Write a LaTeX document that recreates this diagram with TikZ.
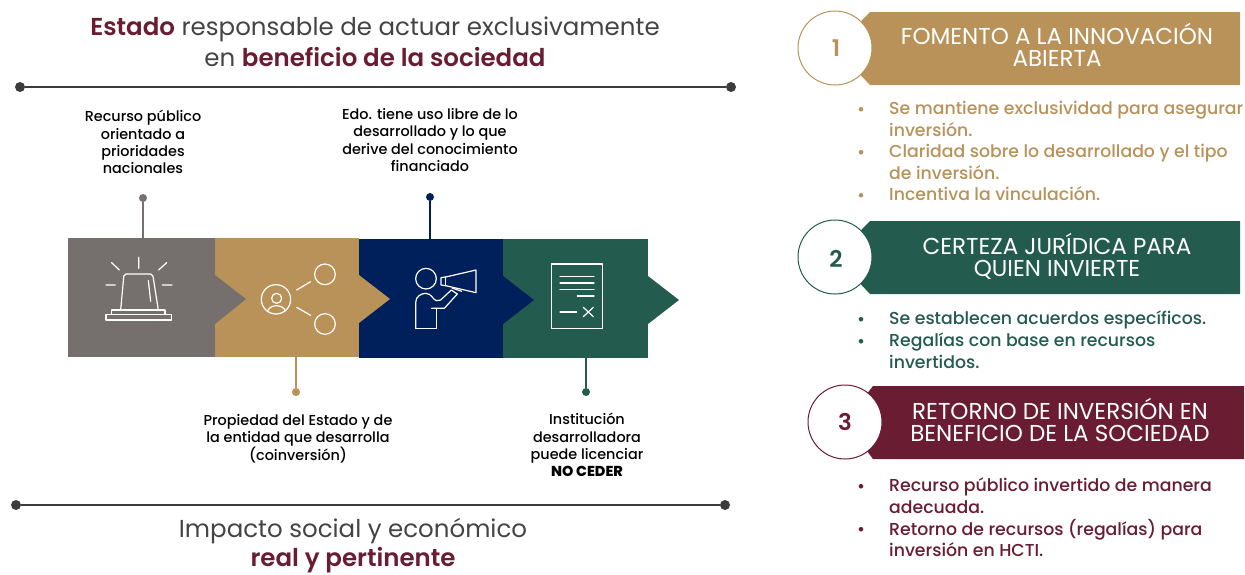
\documentclass[tikz,border=0pt]{standalone}
\usepackage{fontspec}
\setmainfont{Poppins}[BoldFont={Poppins SemiBold}]
\newfontfamily\medf{Poppins Medium}
\definecolor{cgray}{HTML}{75706E}
\definecolor{ctan}{HTML}{B89259}
\definecolor{cnavy}{HTML}{00205B}
\definecolor{cgreen}{HTML}{235B4E}
\definecolor{cmar}{HTML}{691C32}
\definecolor{cdark}{HTML}{3C3C3C}
\definecolor{ctxt}{HTML}{444444}
\tikzset{
  block/.style={fill=#1,draw=none,inner sep=0pt,anchor=north west},
  tip/.style={fill=#1,draw=none},
  icon/.style={draw=white,line width=1.2pt,line join=round,line cap=round,fill=none},
  dotn/.style={circle,fill=#1,inner sep=0pt,minimum size=8pt},
  rule/.style={line width=2.6pt,cdark},
  ruledot/.style={circle,fill=cdark,inner sep=0pt,minimum size=10pt},
  stem/.style={line width=1.1pt,#1},
  head/.style={font=\fontsize{24.5}{31}\selectfont,text=ctxt,align=center,inner sep=0pt},
  headb/.style={font=\fontsize{24.5}{29}\selectfont,text=ctxt,align=center,inner sep=0pt},
  lab/.style={font=\medf\fontsize{14.4}{17.2}\selectfont,text=black,align=center,inner sep=0pt},
  bantext/.style={font=\fontsize{23}{22}\selectfont,text=white,align=center,inner sep=0pt},
  numc/.style={circle,draw=#1,fill=white,line width=1pt,minimum size=74pt,inner sep=0pt},
  numt/.style={inner sep=0pt,text=#1,font=\bfseries\fontsize{23}{24}\selectfont},
  bul/.style={font=\medf\fontsize{17.3}{21.6}\selectfont,text=#1,align=left,inner sep=0pt,anchor=north west},
  bulm/.style={font=\medf\fontsize{17.3}{21.6}\selectfont,text=#1,inner sep=0pt},
}
\begin{document}
\begin{tikzpicture}[x=1pt,y=-1pt]
\useasboundingbox (0,0) rectangle (1245,574);
\fill[white] (0,0) rectangle (1245,574);
% headings
\node[head] (h1) at (375,42) {{\bfseries\color{cmar}Estado} responsable de actuar exclusivamente\\en {\bfseries\color{cmar}beneficio de la sociedad}};
\node[headb] (h2) at (353,545.5) {Impacto social y económico\\{\bfseries\color{cmar}real y pertinente}};
% rules
\node[ruledot] (ra) at (20,87) {};
\node[ruledot] (rb) at (731,87) {};
\draw[rule] (ra) -- (rb);
\node[ruledot] (rc) at (16,505) {};
\node[ruledot] (rd) at (725,505) {};
\draw[rule] (rc) -- (rd);
% blocks, right to left so that each tip lies over the next block
\fill[tip=cgreen] (648,276) -- (679,300) -- (648,324) -- cycle;
\node[block=cgreen,minimum width=145pt,minimum height=119pt] (b4) at (503,239) {};
\node[block=cnavy,minimum width=144pt,minimum height=119pt] (b3) at (359,239) {};
\fill[tip=cnavy] (503,276) -- (534,300) -- (503,324) -- cycle;
\node[block=ctan,minimum width=144pt,minimum height=119pt] (b2) at (215,238) {};
\fill[tip=ctan] (359,275) -- (390,299) -- (359,323) -- cycle;
\node[block=cgray,minimum width=147pt,minimum height=119pt] (b1) at (68,238) {};
\fill[tip=cgray] (215,275) -- (246,299) -- (215,324) -- cycle;
% stems
\node[dotn=cgray] (d1) at (143,198) {};
\draw[stem=cgray] (d1) -- (d1 |- b1.north);
\node[dotn=ctan] (d2) at (296,392) {};
\draw[stem=ctan] (d2) -- (d2 |- b2.south);
\node[dotn=cnavy] (d3) at (430,197) {};
\draw[stem=cnavy] (d3) -- (d3 |- b3.north);
\node[dotn=cgreen] (d4) at (586,392) {};
\draw[stem=cgreen] (d4) -- (d4 |- b4.south);
% icons in zoom coordinates
\begin{scope}[shift={(60,230)},x=0.3333pt,y=-0.3333pt,icon]
  \draw[rounded corners=2pt] (182,240) -- (192,132) -- (278,132) -- (295,240);
  \draw (155,240) -- (315,240) -- (315,254) -- (335,254) -- (335,270) -- (138,270) -- (138,254) -- (155,254) -- cycle;
  \draw (155,254) -- (315,254);
  \draw (236,82) -- (236,115) (155,98) -- (178,120) (320,98) -- (296,120) (138,165) -- (166,165) (307,165) -- (336,165) (265,152) -- (272,214);
  \draw (648,208) circle[radius=44];
  \draw (650,205) circle[radius=15];
  \draw (623,243) .. controls (630,222) and (670,222) .. (676,243);
  \draw (795,133) circle[radius=31];
  \draw (795,282) circle[radius=31];
  \draw (710,180) -- (752,155) (710,232) -- (752,256);
\end{scope}
\begin{scope}[shift={(350,230)},x=0.3333pt,y=-0.3333pt,icon]
  \draw (228,146) circle[radius=31];
  \draw (197,295) -- (197,218) .. controls (197,198) and (215,190) .. (228,190) .. controls (245,190) and (250,212) .. (260,212) -- (272,210) -- (304,180) -- (322,192) -- (283,235) -- (245,235);
  \draw (260,235) -- (260,295) -- (197,295);
  \draw (273,143) -- (287,141) -- (378,120) -- (378,188) -- (287,167) -- (273,165) -- cycle;
  \draw (287,141) -- (287,167);
  \draw (306,174) -- (335,184);
  \draw (605,102) rectangle (757,295);
  \draw (630,140) -- (732,140) (630,159) -- (732,159) (630,178) -- (732,178) (682,198) -- (732,198) (630,246) -- (680,246);
  \draw (700,232) -- (730,260) (730,232) -- (700,260);
\end{scope}
% labels
\node[lab] (l1) at (143,142) {Recurso público\\orientado a\\prioridades\\nacionales};
\node[lab] (l3) at (430,140) {Edo. tiene uso libre de lo\\desarrollado y lo que\\derive del conocimiento\\financiado};
\node[lab] (l2) at (298,439) {Propiedad del Estado y de\\la entidad que desarrolla\\(coinversión)};
\node[lab] (l4) at (587,445) {Institución\\desarrolladora\\puede licenciar\\{\bfseries NO CEDER}};
% banners
\fill[ctan] (870,12) -- (1240,12) -- (1240,85) -- (870,85) -- (835,48) -- cycle;
\node[numc=ctan] (n1) at (835,48) {};
\node[numt=ctan] (m1) at (836,48) {1};
\node[bantext] (t1) at (1057,45) {FOMENTO A LA INNOVACIÓN\\ABIERTA};
\fill[cgreen] (870,221) -- (1240,221) -- (1240,294) -- (870,294) -- (835,257) -- cycle;
\node[numc=cgreen] (n2) at (835,257) {};
\node[numt=cgreen] (m2) at (836,259) {2};
\node[bantext] (t2) at (1057,256) {CERTEZA JURÍDICA PARA\\QUIEN INVIERTE};
\fill[cmar] (873,386) -- (1244,386) -- (1244,459) -- (873,459) -- (845,422) -- cycle;
\node[numc=cmar] (n3) at (845,422) {};
\node[numt=cmar] (m3) at (845,422) {3};
\node[bantext] (t3) at (1060,420) {RETORNO DE INVERSIÓN EN\\BENEFICIO DE LA SOCIEDAD};
% bullets
\node[bulm=ctan] at (861,111) {•};
\node[bul=ctan] at (889,101) {Se mantiene exclusividad para asegurar\\inversión.\\Claridad sobre lo desarrollado y el tipo\\de inversión.\\Incentiva la vinculación.};
\node[bulm=ctan] at (861,154) {•};
\node[bulm=ctan] at (861,197) {•};
\node[bulm=cgreen] at (861,321) {•};
\node[bulm=cgreen] at (861,343) {•};
\node[bul=cgreen] at (889,311) {Se establecen acuerdos específicos.\\Regalías con base en recursos\\invertidos.};
\node[bulm=cmar] at (861,488) {•};
\node[bulm=cmar] at (861,531) {•};
\node[bul=cmar] at (889,478) {Recurso público invertido de manera\\adecuada.\\Retorno de recursos (regalías) para\\inversión en HCTI.};
\end{tikzpicture}
\end{document}
